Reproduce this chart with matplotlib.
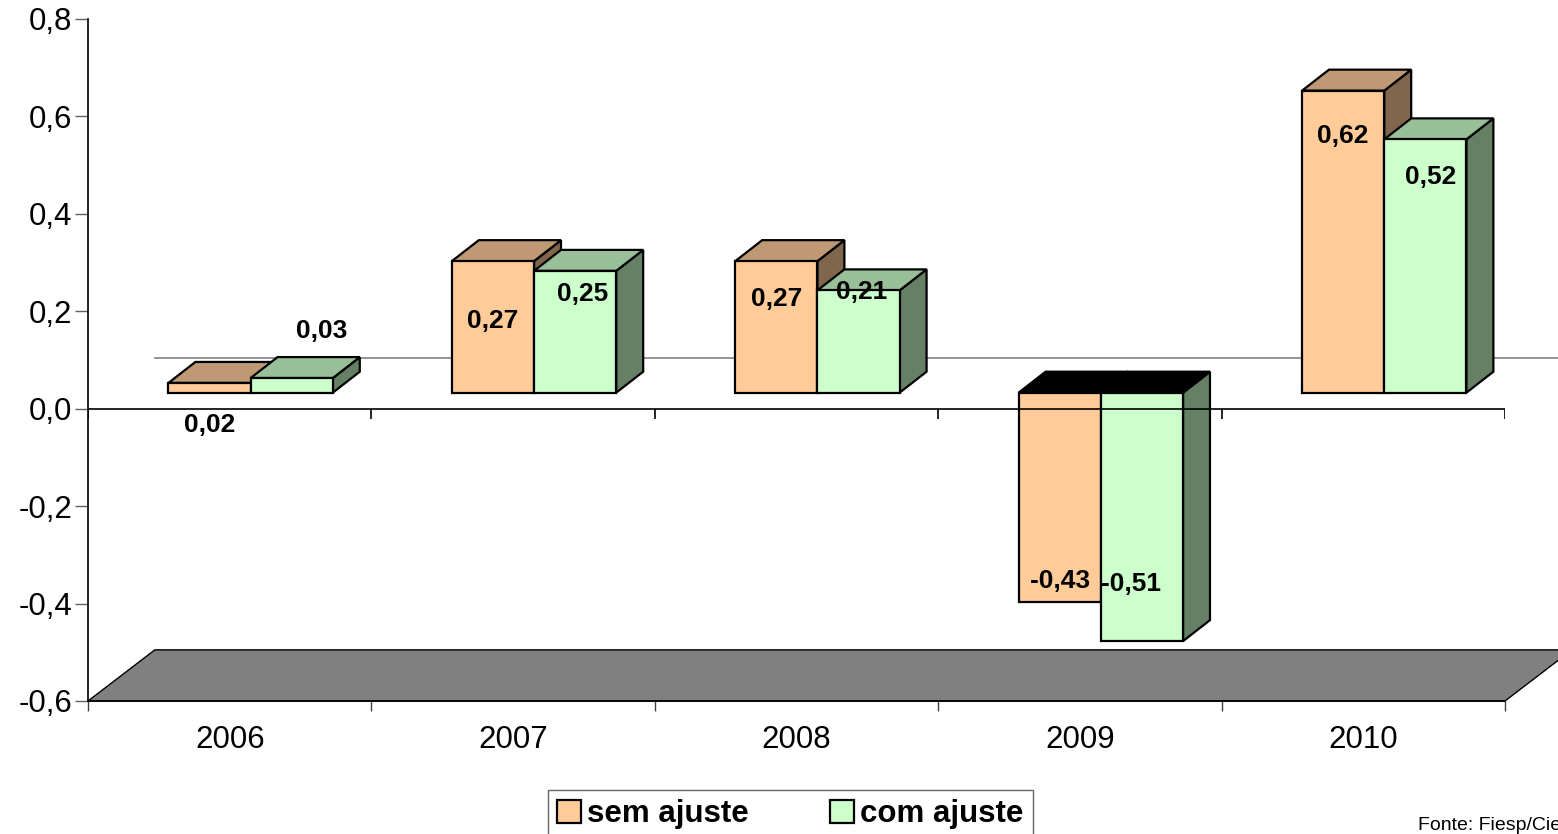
import matplotlib.pyplot as plt
import numpy as np
from matplotlib.patches import Patch, Polygon

plt.rcParams['font.family'] = ['Liberation Sans', 'DejaVu Sans']

years = ['2006', '2007', '2008', '2009', '2010']
sem_ajuste = [0.02, 0.27, 0.27, -0.43, 0.62]
com_ajuste = [0.03, 0.25, 0.21, -0.51, 0.52]

# label placement (manual, as in the original sheet)
label_y_sem = [-0.033, 0.181, 0.226, -0.353, 0.560]
label_y_com = [0.160, 0.236, 0.240, -0.359, 0.476]
label_dx_com = [0.106, 0.025, 0.01, -0.039, 0.018]

# fake 3d geometry, data units
FLOOR_DX, FLOOR_DY = 0.236, 0.105
FRONT_DX, FRONT_DY = 0.074, 0.033
DEPTH_DX, DEPTH_DY = 0.095, 0.043
BAR_W = 0.29

colors = {
    'sem': ('#FFCC99', '#BF9973', '#80664D'),
    'com': ('#CCFFCC', '#99BF99', '#668066'),
}

fig = plt.figure(figsize=(15.58, 8.34), dpi=100)
ax = fig.add_axes([88/1558, 133/834, 1417/1558, 682/834])
ax.set_xlim(-0.5, 4.5)
ax.set_ylim(-0.6, 0.8)

# floor and back wall line
floor = Polygon([(-0.5, -0.6), (4.5, -0.6), (4.5 + FLOOR_DX, -0.6 + FLOOR_DY),
                 (-0.5 + FLOOR_DX, -0.6 + FLOOR_DY)],
                facecolor='#808080', edgecolor='black', lw=1, clip_on=False, zorder=1)
ax.add_patch(floor)
ax.plot([-0.5 + FLOOR_DX, 4.5 + FLOOR_DX], [FLOOR_DY, FLOOR_DY],
        color='#808080', lw=1.2, clip_on=False, zorder=1)

x = np.arange(len(years))


def draw_3d(bars, vals, key, z):
    front, top_c, side_c = colors[key]
    for b, v in zip(bars, vals):
        x0 = b.get_x()
        x1 = x0 + b.get_width()
        lo = min(b.get_y(), b.get_y() + b.get_height())
        hi = max(b.get_y(), b.get_y() + b.get_height())
        top = Polygon([(x0, hi), (x0 + DEPTH_DX, hi + DEPTH_DY),
                       (x1 + DEPTH_DX, hi + DEPTH_DY), (x1, hi)],
                      facecolor='black' if v < 0 else top_c,
                      edgecolor='black', lw=1.6, zorder=z, clip_on=False)
        side = Polygon([(x1, lo), (x1, hi), (x1 + DEPTH_DX, hi + DEPTH_DY),
                        (x1 + DEPTH_DX, lo + DEPTH_DY)],
                       facecolor=side_c, edgecolor='black', lw=1.6, zorder=z, clip_on=False)
        ax.add_patch(side)
        ax.add_patch(top)


bars_sem = ax.bar(x + FRONT_DX - BAR_W, sem_ajuste, width=BAR_W, bottom=FRONT_DY,
                  align='edge', color=colors['sem'][0], edgecolor='black', lw=1.6, zorder=3)
draw_3d(bars_sem, sem_ajuste, 'sem', 2)
bars_com = ax.bar(x + FRONT_DX, com_ajuste, width=BAR_W, bottom=FRONT_DY,
                  align='edge', color=colors['com'][0], edgecolor='black', lw=1.6, zorder=5)
draw_3d(bars_com, com_ajuste, 'com', 4)

for i in range(len(years)):
    ax.text(x[i] + FRONT_DX - BAR_W / 2, label_y_sem[i],
            f'{sem_ajuste[i]:.2f}'.replace('.', ','), ha='center', va='center',
            fontsize=19, fontweight='bold', zorder=7)
    ax.text(x[i] + FRONT_DX + BAR_W / 2 + label_dx_com[i], label_y_com[i],
            f'{com_ajuste[i]:.2f}'.replace('.', ','), ha='center', va='center',
            fontsize=19, fontweight='bold', zorder=7)

# zero line with its own ticks
bounds = np.arange(-0.5, 5, 1)
ax.axhline(0, color='black', lw=1.2, zorder=6)
ax.vlines(bounds, -0.021, 0, color='black', lw=1.2, zorder=6)

ax.set_xticks(bounds)
ax.set_xticklabels([])
ax.set_xticks(x, minor=True)
ax.set_xticklabels(years, minor=True, fontsize=22.5)
ax.tick_params(axis='x', which='major', length=7.5, width=1, color='#404040')
ax.tick_params(axis='x', which='minor', length=0, pad=17)

yt = np.round(np.arange(-0.6, 0.81, 0.2), 1)
ax.set_yticks(yt)
ax.set_yticklabels([f'{v + 0.0:.1f}'.replace('.', ',') for v in yt], fontsize=22.5)
ax.tick_params(axis='y', length=9.5, width=1, color='#606060', pad=2)

for s in ['top', 'right']:
    ax.spines[s].set_visible(False)
ax.spines['left'].set_linewidth(1.2)
ax.spines['bottom'].set_linewidth(1.2)

handles = [Patch(facecolor=colors['sem'][0], edgecolor='black', lw=1.6, label='sem ajuste'),
           Patch(facecolor=colors['com'][0], edgecolor='black', lw=1.6, label='com ajuste')]
leg = fig.legend(handles=handles, loc='upper left', bbox_to_anchor=(548/1558, 1 - 790/834),
                 borderaxespad=0, ncol=2, frameon=True, fancybox=False, borderpad=0.3,
                 handlelength=0.75, handleheight=0.75, handletextpad=0.2, columnspacing=2.6,
                 prop={'size': 22.5, 'weight': 'bold'})
leg.get_frame().set_edgecolor('#404040')
leg.get_frame().set_linewidth(1)

fig.text(1418/1558, 1 - 826/834, 'Fonte: Fiesp/Ciesp', fontsize=14, va='center', ha='left')

fig.savefig('out.png', dpi=100)
